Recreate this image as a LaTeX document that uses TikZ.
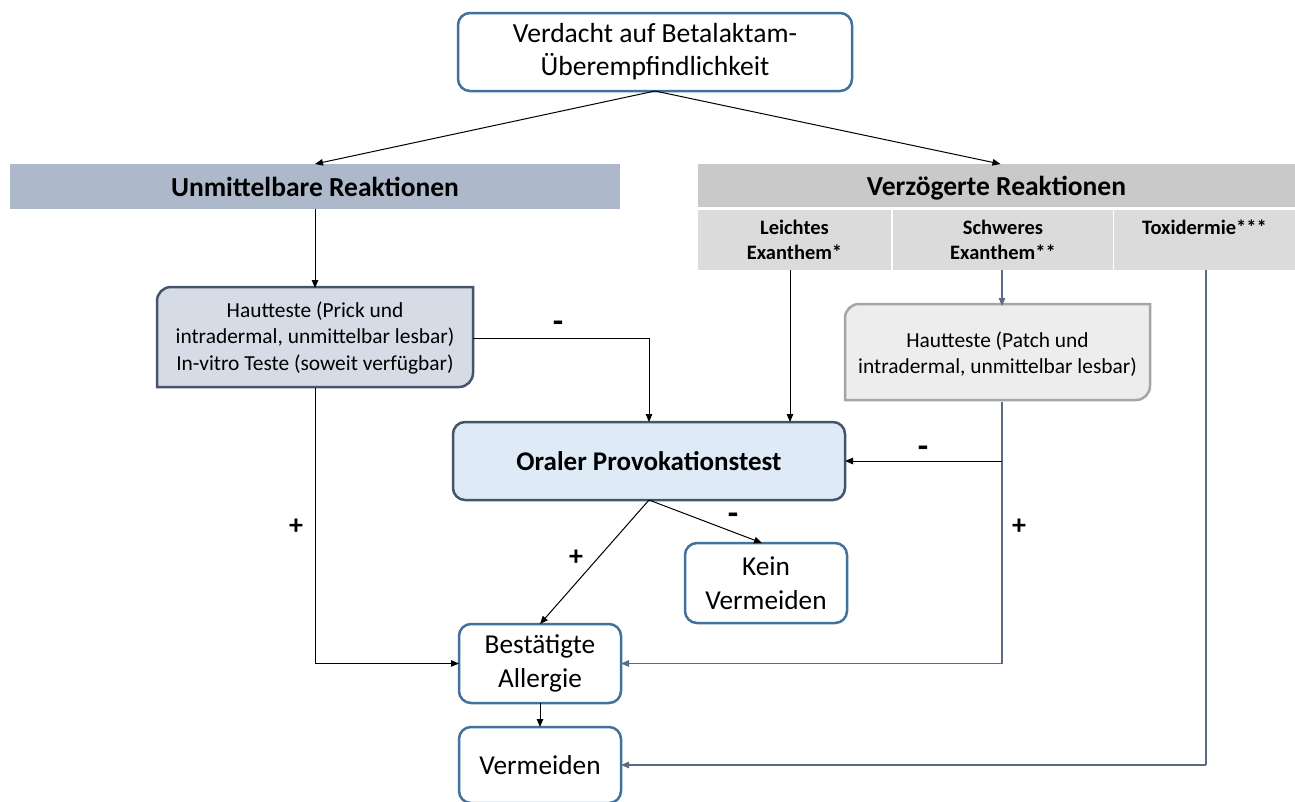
\documentclass[tikz,border=0pt]{standalone}
\usepackage{fontspec}
\setmainfont{Carlito}
\usetikzlibrary{arrows.meta}
\definecolor{bblue}{HTML}{41719C}
\definecolor{slate}{HTML}{44546A}
\definecolor{slateline}{HTML}{5A6B82}
\definecolor{unmfill}{HTML}{ADB9CA}
\definecolor{verzfill}{HTML}{C9C9C9}
\definecolor{subfill}{HTML}{DBDBDB}
\definecolor{hlfill}{HTML}{D6DCE5}
\definecolor{hrfill}{HTML}{EDEDED}
\definecolor{hrbord}{HTML}{A5A5A5}
\definecolor{oralfill}{HTML}{DEEBF7}
\begin{document}
\begin{tikzpicture}[x=1pt,y=-1pt,
  every node/.style={inner sep=0pt, outer sep=0pt, align=center},
  bluebox/.style={draw=bblue, line width=2.5pt, rounded corners=12pt, fill=white},
  bigtext/.style={font=\fontsize{27.3}{33.5}\selectfont},
  bartext/.style={font=\bfseries\fontsize{27.5}{32}\selectfont, text height=19pt, text depth=0pt},
  subtext/.style={font=\bfseries\fontsize{20.5}{25}\selectfont},
  smalltext/.style={font=\fontsize{21.4}{26.5}\selectfont},
  signlabel/.style={font=\bfseries\fontsize{28}{30}\selectfont},
  minuslabel/.style={font=\bfseries\fontsize{34}{36}\selectfont},
  conn/.style={draw=black, line width=1pt, -{Triangle[length=8pt,width=6.5pt]}},
  sconn/.style={draw=slateline, line width=1.2pt, -{Triangle[length=8pt,width=6.5pt]}},
  sline/.style={draw=slateline, line width=1.2pt}
]
\useasboundingbox (0,0) rectangle (1295,801);

% top box
\node[bluebox, font=\fontsize{27.6}{33}\selectfont, minimum width=394pt, minimum height=78pt] (top) at (655,52) {Verdacht auf Betalaktam-\\Überempfindlichkeit};

% bars
\node[fill=unmfill, bartext, minimum width=610pt, minimum height=45pt] (unm) at (315,186.5) {Unmittelbare Reaktionen};
\node[fill=verzfill, bartext, minimum width=597pt, minimum height=43pt] (verz) at (996.5,185.5) {Verzögerte Reaktionen};

% sub boxes
\node[fill=subfill, subtext, minimum width=193pt, minimum height=60pt] (leicht) at (794.5,240) {Leichtes\\Exanthem*};
\node[fill=subfill, subtext, minimum width=220pt, minimum height=60pt] (schw) at (1003,240) {Schweres\\Exanthem**};
\node[fill=subfill, subtext, minimum width=181pt, minimum height=60pt] (toxi) at (1204.5,240) {Toxidermie***\\\mbox{}};

% left skin test box (round diagonal corners)
\draw[draw=slate, fill=hlfill, line width=2.5pt] (157,387) -- (157,301) arc[start angle=180, end angle=270, radius=14] -- (473,287) -- (473,373) arc[start angle=0, end angle=90, radius=14] -- cycle;
\node[smalltext, minimum width=316pt, minimum height=100pt] (hl) at (315,338) {Hautteste (Prick und\\intradermal, unmittelbar lesbar)\\In-vitro Teste (soweit verfügbar)};

% right skin test box
\draw[draw=hrbord, fill=hrfill, line width=2.5pt] (845,400) -- (845,318) arc[start angle=180, end angle=270, radius=14] -- (1150,304) -- (1150,386) arc[start angle=0, end angle=90, radius=14] -- cycle;
\node[smalltext, minimum width=305pt, minimum height=96pt] (hr) at (997.5,354) {Hautteste (Patch und\\intradermal, unmittelbar lesbar)};

% oral provocation
\node[draw=slate, fill=oralfill, line width=2.5pt, rounded corners=12pt, font=\bfseries\fontsize{27}{32}\selectfont, minimum width=392pt, minimum height=78pt] (oral) at (649,461) {Oraler Provokationstest};

% outcome boxes
\node[bluebox, bigtext, minimum width=162pt, minimum height=80pt] (kein) at (766,583) {Kein\\Vermeiden};
\node[bluebox, bigtext, minimum width=162pt, minimum height=79pt] (best) at (540,663.5) {Bestätigte\\Allergie};
\node[bluebox, bigtext, minimum width=162pt, minimum height=76pt] (verm) at (540,765) {Vermeiden};

% connectors
\draw[conn] (top.south) -- (unm.north);
\draw[conn] (top.south) -- ([xshift=4pt]verz.north);
\draw[conn] (unm.south) -- (hl.north);
\draw[conn] (hl.east) -| (oral.north);
\node[minuslabel] (m1) at (558,327) {-};
\draw[conn] ([xshift=-4.5pt]leicht.south) -- ([xshift=-4.5pt]leicht.south |- oral.north);
\draw[sconn] ([xshift=-1pt]schw.south) -- ([xshift=-1pt]schw.south |- hr.north);
\draw[sline] ([xshift=-1pt]schw.south |- hr.south) -- ([xshift=-1pt]schw.south |- best.east);
\draw[sconn] ([xshift=-1pt]schw.south |- best.east) -- (best.east);
\draw[conn] ([xshift=-1pt]schw.south |- oral.east) -- (oral.east);
\node[minuslabel] (m2) at (923,452) {-};
\node[signlabel] (p2) at (1019,527) {+};
\draw[sline] ([xshift=1.5pt]toxi.south) -- ([xshift=1.5pt]toxi.south |- verm.east);
\draw[sconn] ([xshift=1.5pt]toxi.south |- verm.east) -- (verm.east);
\draw[conn] (hl.south) |- (best.west);
\node[signlabel] (p1) at (296,527) {+};
\draw[conn] (oral.south) -- (best.north);
\node[signlabel] (p3) at (576,558) {+};
\draw[conn] (oral.south) -- ([xshift=-4pt]kein.north);
\node[minuslabel] (m3) at (733,519) {-};
\draw[conn] (best.south) -- (verm.north);
\end{tikzpicture}
\end{document}
